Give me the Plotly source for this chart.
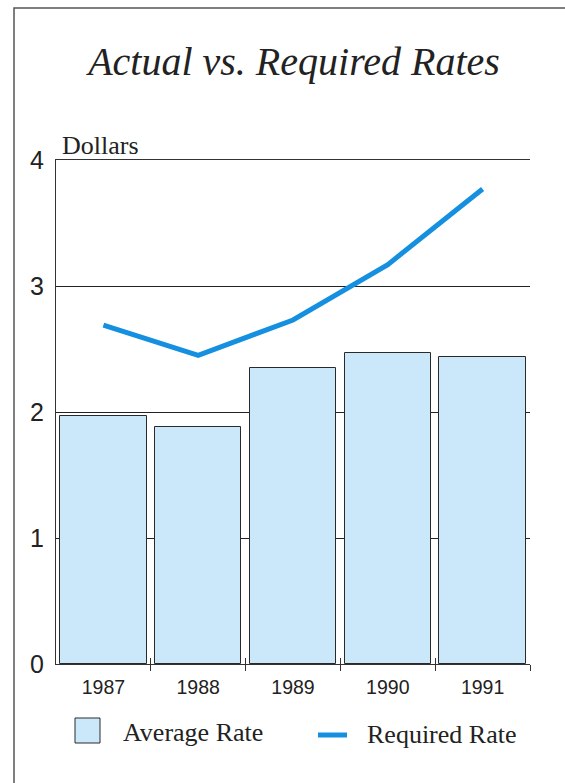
import plotly.graph_objects as go

years = ["1987", "1988", "1989", "1990", "1991"]
average_rate = [1.97, 1.88, 2.35, 2.47, 2.44]
required_rate = [2.69, 2.45, 2.73, 3.17, 3.77]
y_ticks = [0, 1, 2, 3, 4]

W, H = 565, 783
L, R, T, B = 56, 530, 160, 664  # plot area in pixels
PW, PH = R - L, B - T

def px(x):
    return (x - L) / PW

def py(y):
    return (B - y) / PH

idx = list(range(len(years)))
bounds = [i + 0.5 for i in idx]

bar_fill = "#cbe8fb"
bar_line = "#2a2a2a"
line_col = "#1590e0"
txt = "#222222"
serif = "Liberation Serif, Times New Roman, serif"
sans = "Liberation Sans, Arial, sans-serif"

fig = go.Figure()
fig.add_trace(go.Bar(x=idx, y=average_rate, width=0.91, name="Average Rate",
                     marker=dict(color=bar_fill, line=dict(color=bar_line, width=1)),
                     showlegend=False))
fig.add_trace(go.Scatter(x=idx, y=required_rate, mode="lines", name="Required Rate",
                         line=dict(color=line_col, width=5), showlegend=False))
# invisible helper trace for the overlay axis (upward boundary ticks)
fig.add_trace(go.Scatter(x=idx, y=average_rate, xaxis="x2", mode="markers",
                         marker=dict(opacity=0), hoverinfo="skip", showlegend=False))

fig.update_layout(
    width=W, height=H,
    margin=dict(l=L, r=W - R, t=T, b=H - B),
    paper_bgcolor="white", plot_bgcolor="white",
    title=dict(text="Actual vs. Required Rates", x=294 / W, xanchor="center",
               y=1 - 61 / H, yanchor="middle",
               font=dict(family=serif, size=40, color=txt, style="italic")),
    xaxis=dict(range=[-0.5, 4.5], tickvals=idx, ticktext=years,
               ticks="outside", ticklen=5, tickcolor="rgba(0,0,0,0)",
               tickfont=dict(family=sans, size=19.5, color=txt),
               showgrid=False, zeroline=False,
               showline=True, linecolor="#333", linewidth=1.2, mirror=True,
               minor=dict(tickvals=bounds, ticks="outside", ticklen=6,
                          tickcolor="#333", tickwidth=1, showgrid=False)),
    xaxis2=dict(range=[-0.5, 4.5], overlaying="x", side="bottom",
                tickvals=bounds, ticks="inside", ticklen=6, tickcolor="#333",
                showticklabels=False, showgrid=False, zeroline=False, showline=False),
    yaxis=dict(range=[0, 4], tickvals=y_ticks, ticks="outside", ticklen=6,
               tickcolor="rgba(0,0,0,0)",
               tickfont=dict(family=sans, size=25, color=txt),
               showgrid=True, gridcolor="#222", gridwidth=1.1,
               zeroline=False, showline=True, linecolor="#333", linewidth=1.2),
    showlegend=False,
    bargap=0,
)

shapes = [
    # outer border (runs off the right and bottom edges of the image)
    dict(type="rect", xref="paper", yref="paper",
         x0=px(14), x1=px(575), y0=py(795), y1=py(8),
         line=dict(color="#555", width=1.5), fillcolor="rgba(0,0,0,0)", layer="below"),
    # legend: bar swatch
    dict(type="rect", xref="paper", yref="paper",
         x0=px(75), x1=px(100), y0=py(743), y1=py(718),
         line=dict(color=bar_line, width=1), fillcolor=bar_fill),
    # legend: line swatch
    dict(type="line", xref="paper", yref="paper",
         x0=px(318), x1=px(347), y0=py(735), y1=py(735),
         line=dict(color=line_col, width=5)),
]
fig.update_layout(shapes=shapes)

fig.add_annotation(text="Dollars", xref="paper", yref="paper", x=px(60), y=py(145),
                   xanchor="left", yanchor="middle", showarrow=False,
                   font=dict(family=serif, size=26, color=txt))
fig.add_annotation(text="Average Rate", xref="paper", yref="paper", x=px(121), y=py(732),
                   xanchor="left", yanchor="middle", showarrow=False,
                   font=dict(family=serif, size=26, color=txt))
fig.add_annotation(text="Required Rate", xref="paper", yref="paper", x=px(365), y=py(734),
                   xanchor="left", yanchor="middle", showarrow=False,
                   font=dict(family=serif, size=26, color=txt))

fig.write_html("out.html")
